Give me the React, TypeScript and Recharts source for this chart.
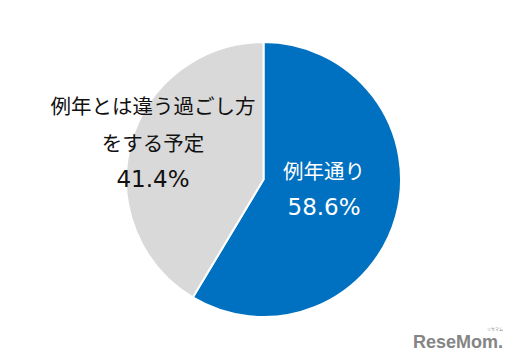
import React from 'react';
import { PieChart, Pie, Cell } from 'recharts';

const categories = ['例年通り', '例年とは違う過ごし方をする予定'];
const values = [58.6, 41.4];
const labelLines = [['例年通り'], ['例年とは違う過ごし方', 'をする予定']];
const colors = ['#0070C0', '#D9D9D9'];
const textColors = ['#FFFFFF', '#111111'];
const labelRadiusRatio = [0.457, 0.834];
const labelNudgeY = [-8, -7];

const data = categories.map((name, i) => ({ name, value: values[i] }));

const RAD = Math.PI / 180;
const FONT = '"Noto Sans CJK JP", "Noto Sans", sans-serif';
const NUM_FONT = '"DejaVu Sans", sans-serif';

const renderLabel = (props: any) => {
  const { cx, cy, midAngle, outerRadius, index, value } = props;
  const r = outerRadius * labelRadiusRatio[index];
  const x = cx + r * Math.cos(-midAngle * RAD);
  const y = cy + r * Math.sin(-midAngle * RAD) + labelNudgeY[index];
  const lines = [...labelLines[index], `${value.toFixed(1)}%`];
  const spacing = 37;
  const startY = y - ((lines.length - 1) * spacing) / 2;
  return (
    <text
      x={x}
      y={startY}
      textAnchor="middle"
      fill={textColors[index]}
      fontSize={20.5}
      fontFamily={FONT}
    >
      {lines.map((l, i) => {
        const isNum = i === lines.length - 1;
        return (
          <tspan
            key={i}
            x={x}
            y={startY + i * spacing}
            dominantBaseline="central"
            fontFamily={isNum ? NUM_FONT : FONT}
            fontSize={isNum ? 23 : 20.5}
          >
            {l}
          </tspan>
        );
      })}
    </text>
  );
};

export default function App() {
  return (
    <div style={{ position: 'absolute', left: 0, top: 0, width: 520, height: 364, background: '#fff' }}>
      <PieChart width={520} height={364} margin={{ top: 0, right: 0, bottom: 0, left: 0 }}>
        <Pie
          data={data}
          dataKey="value"
          nameKey="name"
          cx={263.5}
          cy={179.5}
          outerRadius={137.5}
          startAngle={90}
          endAngle={-270}
          stroke="#FFFFFF"
          strokeWidth={2}
          label={renderLabel}
          labelLine={false}
          isAnimationActive={false}
        >
          {data.map((d, i) => (
            <Cell key={d.name} fill={colors[i]} />
          ))}
        </Pie>
      </PieChart>
      <div
        style={{
          position: 'absolute',
          left: 413,
          top: 333,
          fontFamily: '"Liberation Sans", Arial, sans-serif',
          fontWeight: 'bold',
          fontSize: 18,
          color: '#858585',
          letterSpacing: 0,
          lineHeight: 1,
          whiteSpace: 'nowrap',
        }}
      >
        ReseMom.
      </div>
      <div
        style={{
          position: 'absolute',
          left: 487,
          top: 327,
          fontFamily: FONT,
          fontSize: 4,
          color: '#858585',
          lineHeight: 1,
          whiteSpace: 'nowrap',
        }}
      >
        リセマム
      </div>
    </div>
  );
}
